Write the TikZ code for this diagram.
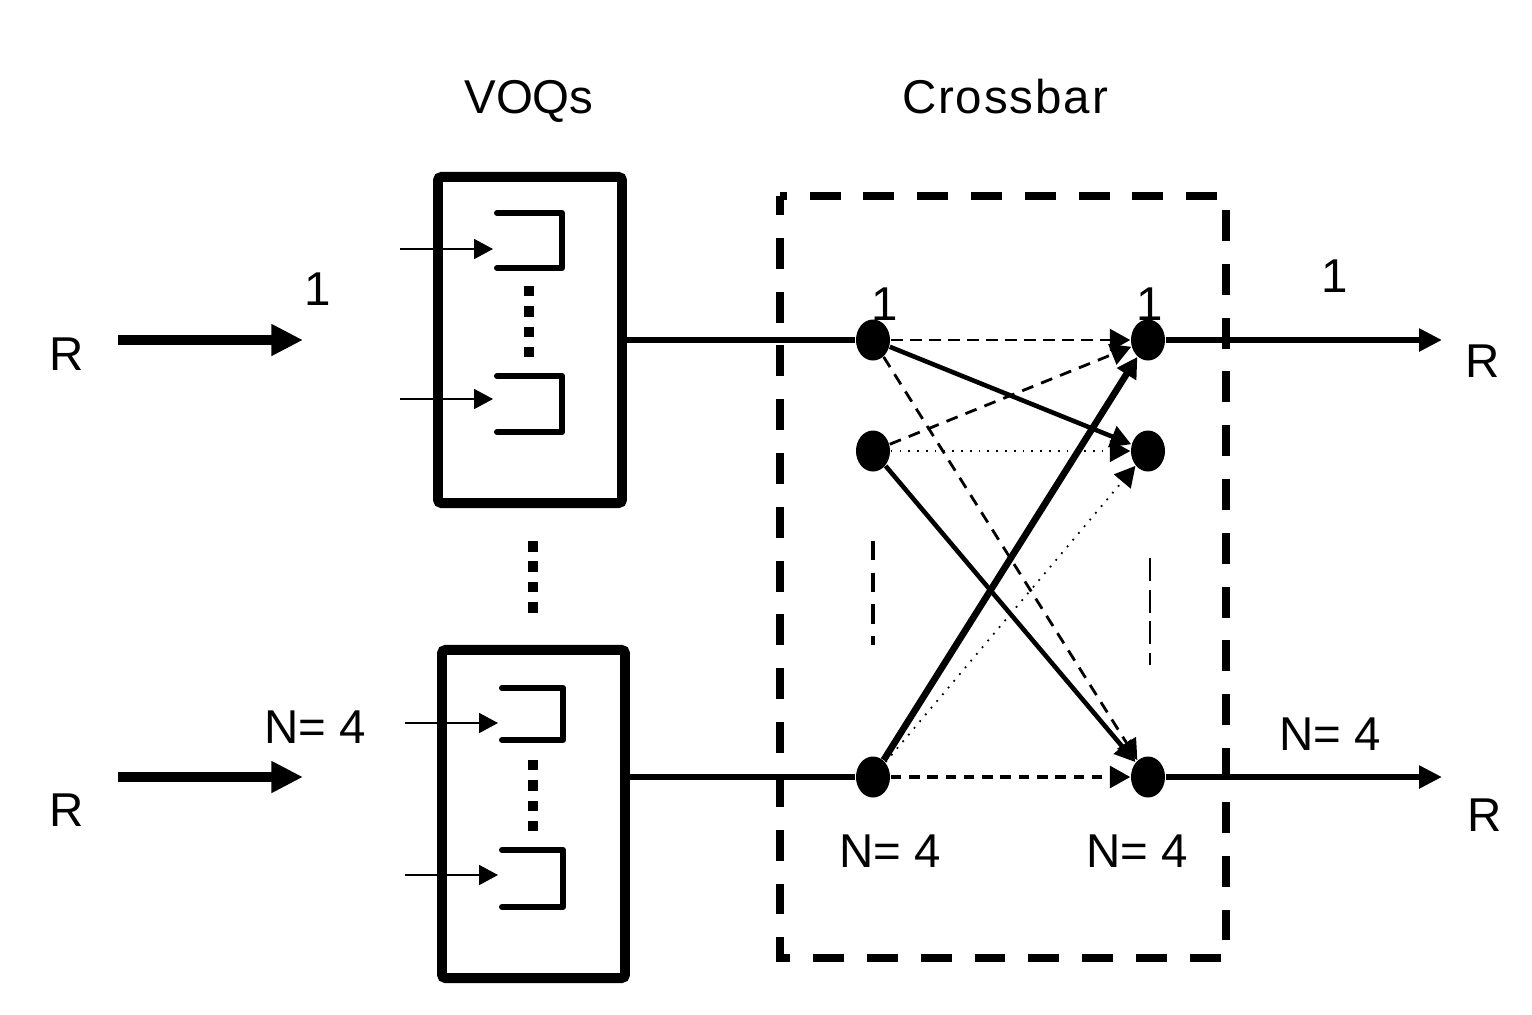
\documentclass[tikz,border=0pt]{standalone}
\usepackage{fontspec}
\setmainfont{Liberation Sans}
\usetikzlibrary{arrows.meta,shapes.geometric}

\tikzset{
  voqbox/.style={draw, line width=2.8pt, rounded corners=1pt, inner sep=0pt},
  xnode/.style={ellipse, fill=black, minimum width=0.34cm, minimum height=0.41cm, inner sep=0pt},
  lbl/.style={anchor=base, inner sep=0pt, font=\fontsize{13.5}{16}\selectfont},
  inarrow/.style={line width=2.8pt, -{Triangle[length=9pt,width=8.5pt]}},
  outarrow/.style={line width=1.7pt, -{Triangle[length=6.5pt,width=6.2pt]}},
  qarrow/.style={line width=0.5pt, -{Triangle[length=5.4pt,width=5.7pt]}},
  queue/.style={line width=1.7pt, line cap=round, line join=round},
  squaredots/.style={line width=2.8pt, dash pattern=on 2.9pt off 2.9pt},
  link/.style={line width=1.5pt},
  xtip/.style={-{Triangle[length=5.8pt,width=6.2pt]}},
}

\begin{document}
\begin{tikzpicture}[x=0.01cm, y=-0.01cm]
  \useasboundingbox (0,0) rectangle (1532,1014);

  % titles
  \node[lbl] (tvoq) at (529,113) {VOQs};
  \node[lbl] (txbar) at (1005,113) {\addfontfeature{LetterSpace=4}Crossbar};

  % VOQ boxes
  \node[voqbox, minimum width=1.84cm, minimum height=3.26cm] (vbox1) at (530,340) {};
  \node[voqbox, minimum width=1.83cm, minimum height=3.28cm] (vbox2) at (533.5,814) {};

  % queues in box 1
  \draw[queue] (497,213) -- (562,213) -- (562,268) -- (497,268);
  \draw[queue] (497,376) -- (562,376) -- (562,432) -- (497,432);
  \coordinate (q1a) at (400,249);  \coordinate (q1b) at (493,249);
  \coordinate (q2a) at (400,399);  \coordinate (q2b) at (493,399);
  \draw[qarrow] (q1a) -- (q1b);
  \draw[qarrow] (q2a) -- (q2b);
  \draw[squaredots] (529,286) -- (529,358);

  % queues in box 2
  \draw[queue] (502,688) -- (563,688) -- (563,740) -- (502,740);
  \draw[queue] (502,850) -- (563,850) -- (563,907) -- (502,907);
  \coordinate (q3a) at (405,723);  \coordinate (q3b) at (498,723);
  \coordinate (q4a) at (405,875);  \coordinate (q4b) at (498,875);
  \draw[qarrow] (q3a) -- (q3b);
  \draw[qarrow] (q4a) -- (q4b);
  \draw[squaredots] (533,760) -- (533,832);

  % dots between the boxes
  \draw[squaredots, dash pattern=on 3pt off 2.8pt] (533,541) -- (533,613);

  % inputs
  \node[lbl] (rin1) at (67,370) {R};
  \node[lbl] (rin4) at (67,826) {R};
  \node[lbl] (nin1) at (318,305) {1};
  \node[lbl] (nin4) at (315,743) {N= 4};
  \coordinate (in1a) at (118,340);  \coordinate (in1b) at (303,340);
  \coordinate (in4a) at (118,777);  \coordinate (in4b) at (303,777);
  \draw[inarrow] (in1a) -- (in1b);
  \draw[inarrow] (in4a) -- (in4b);

  % crossbar
  \draw[line width=2pt, dash pattern=on 8.8pt off 6.5pt, dash phase=3.4pt]
    (780,196) rectangle (1226,958);
  \node[xnode] (l1) at (873,340) {};
  \node[xnode] (l2) at (873,451) {};
  \node[xnode] (l4) at (873,777) {};
  \node[xnode] (r1) at (1148,340) {};
  \node[xnode] (r2) at (1148,451) {};
  \node[xnode] (r4) at (1148,777) {};
  \draw[line width=0.9pt, dash pattern=on 5.5pt off 3.5pt] (873,541) -- (873,645);
  \draw[line width=0.6pt, dash pattern=on 6.5pt off 2.5pt] (1150,558) -- (1150,665);

  \draw[link] (vbox1.east) -- (l1);
  \draw[link] (vbox2.east |- l4) -- (l4);

  \draw[xtip, line width=0.8pt, dash pattern=on 3.4pt off 2pt] (l1) -- (r1);
  \draw[xtip, line width=1.3pt] (l1) -- (r2);
  \draw[xtip, line width=0.8pt, dash pattern=on 3.4pt off 2.4pt] (l1) -- (r4);
  \draw[xtip, line width=0.8pt, dash pattern=on 3.4pt off 2.4pt] (l2) -- (r1);
  \draw[xtip, line width=0.5pt, dotted] (l2) -- (r2);
  \draw[xtip, line width=1.3pt] (l2) -- (r4);
  \draw[xtip, line width=1.9pt] (l4) -- (r1);
  \draw[xtip, line width=0.5pt, dotted] (l4) -- (r2);
  \draw[xtip, line width=1pt, dash pattern=on 3pt off 2.2pt] (l4) -- (r4);

  \node[lbl] (nl1) at (885,320) {1};
  \node[lbl] (nr1) at (1150,320) {1};
  \node[lbl] (nl4) at (890,867) {N= 4};
  \node[lbl] (nr4) at (1137,867) {N= 4};

  % outputs
  \coordinate (out1) at (1442,340);
  \coordinate (out4) at (1442,777);
  \draw[outarrow] (r1) -- (out1);
  \draw[outarrow] (r4) -- (out4);
  \node[lbl] (nout1) at (1335,292) {1};
  \node[lbl] (nout4) at (1330,750) {N= 4};
  \node[lbl] (rout1) at (1483,377) {R};
  \node[lbl] (rout4) at (1485,831) {R};
\end{tikzpicture}
\end{document}
